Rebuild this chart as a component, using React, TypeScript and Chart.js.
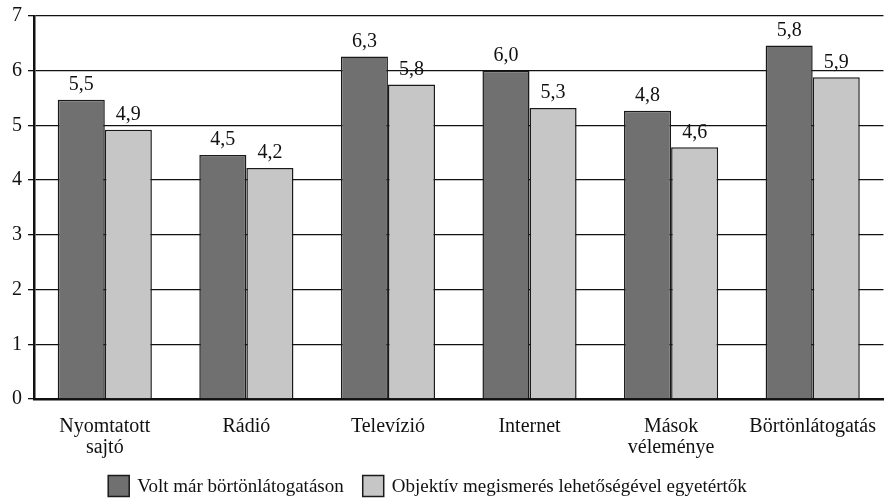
import React, { useEffect, useRef } from "react";
import { Chart, registerables } from "chart.js";

Chart.register(...registerables);

const categories: (string | string[])[] = [
  ["Nyomtatott", "sajtó"],
  "Rádió",
  "Televízió",
  "Internet",
  ["Mások", "véleménye"],
  "Börtönlátogatás",
];
const seriesNames = [
  "Volt már börtönlátogatáson",
  "Objektív megismerés lehetőségével egyetértők",
];
const visitedValues = [5.47, 4.46, 6.26, 6.0, 5.27, 6.46];
const agreeValues = [4.92, 4.22, 5.75, 5.32, 4.6, 5.88];
const visitedLabels = ["5,5", "4,5", "6,3", "6,0", "4,8", "5,8"];
const agreeLabels = ["4,9", "4,2", "5,8", "5,3", "4,6", "5,9"];
const yTicks = [0, 1, 2, 3, 4, 5, 6, 7];

const FONT = "'Liberation Serif', 'DejaVu Serif', serif";

const labelPlugin = {
  id: "barTextLabels",
  afterDatasetsDraw(chart: any) {
    const ctx = chart.ctx;
    const sets = [visitedLabels, agreeLabels];
    ctx.save();
    ctx.font = `20px ${FONT}`;
    ctx.fillStyle = "#111";
    ctx.textAlign = "center";
    ctx.textBaseline = "bottom";
    chart.data.datasets.forEach((_: any, di: number) => {
      const meta = chart.getDatasetMeta(di);
      meta.data.forEach((bar: any, i: number) => {
        ctx.fillText(sets[di][i], bar.x, bar.y - 5);
      });
    });
    ctx.restore();
  },
};

const legendPlugin = {
  id: "bottomLegend",
  afterDraw(chart: any) {
    const ctx = chart.ctx;
    const box = 21;
    const textGap = 8;
    const itemGap = 19;
    ctx.save();
    ctx.font = `19px ${FONT}`;
    const items = chart.data.datasets.map((ds: any) => ({
      text: ds.label,
      fill: ds.backgroundColor,
      stroke: ds.borderColor,
      w: ctx.measureText(ds.label).width,
    }));
    const total =
      items.reduce((s: number, it: any) => s + box + textGap + it.w, 0) +
      itemGap * (items.length - 1);
    let x = chart.width / 2 - 15 - total / 2;
    const top = chart.height - box - 1.5;
    const cy = top + box / 2;
    ctx.textBaseline = "middle";
    ctx.textAlign = "left";
    items.forEach((it: any) => {
      ctx.fillStyle = it.fill;
      ctx.fillRect(x, top, box, box);
      ctx.lineWidth = 1.5;
      ctx.strokeStyle = it.stroke;
      ctx.strokeRect(x, top, box, box);
      ctx.fillStyle = "#111";
      ctx.fillText(it.text, x + box + textGap, cy + 1);
      x += box + textGap + it.w + itemGap;
    });
    ctx.restore();
  },
};

export default function App() {
  const ref = useRef<HTMLCanvasElement | null>(null);
  useEffect(() => {
    if (!ref.current) return;
    const chart = new Chart(ref.current, {
      type: "bar",
      data: {
        labels: categories,
        datasets: [
          {
            label: seriesNames[0],
            data: visitedValues,
            backgroundColor: "#707070",
            borderColor: "#1a1a1a",
            borderWidth: 1.5,
            categoryPercentage: 0.665,
            barPercentage: 1,
          },
          {
            label: seriesNames[1],
            data: agreeValues,
            backgroundColor: "#c6c6c6",
            borderColor: "#1a1a1a",
            borderWidth: 1.5,
            categoryPercentage: 0.665,
            barPercentage: 1,
          },
        ],
      },
      options: {
        animation: false,
        responsive: false,
        maintainAspectRatio: false,
        layout: { padding: { top: 0, right: 0, left: 6, bottom: 31 } },
        plugins: {
          tooltip: { enabled: false },
          legend: { display: false },
        },
        scales: {
          x: {
            grid: { display: false },
            border: { display: true, color: "#111", width: 2.5 },
            ticks: {
              color: "#111",
              font: { family: FONT, size: 20, lineHeight: 1.05 },
              padding: 9,
              maxRotation: 0,
            },
          },
          y: {
            min: 0,
            max: 7,
            afterBuildTicks: (axis: any) => {
              axis.ticks = yTicks.map((v) => ({ value: v }));
            },
            grid: {
              color: "#111",
              lineWidth: 1.3,
              tickLength: 6,
              drawTicks: true,
            },
            border: { display: true, color: "#111", width: 2.5 },
            ticks: {
              color: "#111",
              font: { family: FONT, size: 20, lineHeight: 1 },
              padding: 6,
            },
          },
        },
      },
      plugins: [labelPlugin, legendPlugin],
    });
    return () => chart.destroy();
  }, []);
  return (
    <div style={{ position: "fixed", left: 0, top: 0, width: 885, height: 498, background: "#fff" }}>
      <canvas ref={ref} width={885} height={498} style={{ width: 885, height: 498 }} />
    </div>
  );
}
